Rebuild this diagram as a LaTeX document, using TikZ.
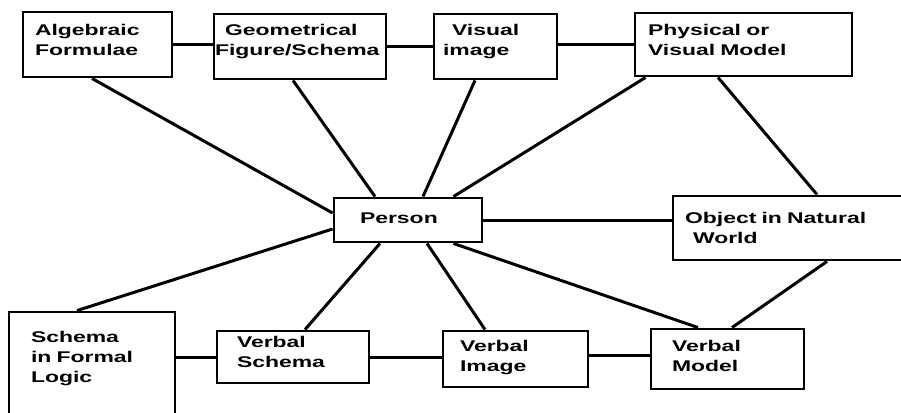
\documentclass[tikz,border=0pt]{standalone}
\usepackage{fontspec}
\setmainfont[FakeStretch=1.48]{Liberation Sans}
\usepackage{tikz}
\usetikzlibrary{positioning}
\hyphenpenalty=10000
\exhyphenpenalty=10000

\begin{document}
\begin{tikzpicture}[x=1pt, y=-1pt,
        block/.style={rectangle, draw, line width=2.9pt, align=left, inner ysep=0pt,
            font=\fontsize{15.5}{20}\selectfont\bfseries, text height=11.3pt},
        line/.style={draw, line width=3pt}]

        \useasboundingbox (0,0) rectangle (901,412);

        % Nodes
        \node [block, minimum width=149pt, minimum height=65pt, inner xsep=12pt, text width=125pt, text depth=28.3pt] (formulae) at (97.5,44.5) {Algebraic\\Formulae};
        \node [block, minimum width=172pt, minimum height=65pt, inner xsep=1pt, text width=170pt, text depth=32.3pt] (figure) at (300,46.5) {\hspace*{10pt}Geometrical\\Figure/Schema};
        \node [block, minimum width=123pt, minimum height=65pt, inner xsep=9pt, text width=105pt, text depth=32.3pt] (visimage) at (495.5,46.5) {\hspace*{9pt}Visual\\image};
        \node [block, minimum width=217pt, minimum height=63pt, inner xsep=13pt, text width=191pt, text depth=28.3pt] (physmodel) at (743.5,44.5) {Physical or\\Visual Model};
        \node [block, minimum width=148pt, minimum height=44pt, inner xsep=26pt, text width=96pt, text depth=5.3pt] (person) at (408,220) {Person};
        \node [block, minimum width=230pt, minimum height=64pt, inner xsep=12pt, text width=206pt, text depth=21.3pt] (object) at (788,228) {Object in Natural\\\hspace*{8pt}World};
        \node [block, minimum width=166pt, minimum height=113pt, inner xsep=22pt, text width=122pt, text depth=64.3pt] (logic) at (92,368.5) {Schema\\in Formal\\Logic};
        \node [block, minimum width=152pt, minimum height=52pt, inner xsep=20pt, text width=112pt, text depth=31.3pt] (verbschema) at (293,357) {Verbal\\Schema};
        \node [block, minimum width=145pt, minimum height=56pt, inner xsep=17pt, text width=111pt, text depth=27.3pt] (verbimage) at (515.5,359) {Verbal\\Image};
        \node [block, minimum width=153pt, minimum height=60pt, inner xsep=21pt, text width=111pt, text depth=27.3pt] (verbmodel) at (727.5,359) {Verbal\\Model};

        % Edges
        \path [line] (formulae.east) -- (formulae.east -| figure.west);
        \path [line] (figure) -- (visimage);
        \path [line] (physmodel.west) -- (physmodel.west -| visimage.east);
        \path [line] ([xshift=-5.5pt]formulae.south) -- ([yshift=7pt]person.west);
        \path [line] ([xshift=-7pt]figure.south) -- ([xshift=-33pt]person.north);
        \path [line] ([xshift=-20.5pt]visimage.south) -- ([xshift=15pt]person.north);
        \path [line] ([xshift=12pt]physmodel.south west) -- ([xshift=-30pt]person.north east);
        \path [line] ([xshift=-25.5pt]physmodel.south) -- ([xshift=29pt]object.north);
        \path [line] (person.east) -- (person.east -| object.west);
        \path [line] ([xshift=39pt]object.south) -- ([xshift=4.5pt]verbmodel.north);
        \path [line] ([xshift=-30pt]person.south east) -- ([xshift=-29.5pt]verbmodel.north);
        \path [line] ([xshift=-28pt]person.south) -- ([xshift=12pt]verbschema.north);
        \path [line] ([xshift=19pt]person.south) -- ([xshift=-30.5pt]verbimage.north);
        \path [line] ([yshift=-9pt]person.west) -- ([xshift=-15pt]logic.north);
        \path [line] (verbschema.west) -- (verbschema.west -| logic.east);
        \path [line] (verbschema.east) -- (verbschema.east -| verbimage.west);
        \path [line] ([yshift=4pt]verbimage.east) -- ([yshift=4pt]verbimage.east -| verbmodel.west);

    \end{tikzpicture}
\end{document}
